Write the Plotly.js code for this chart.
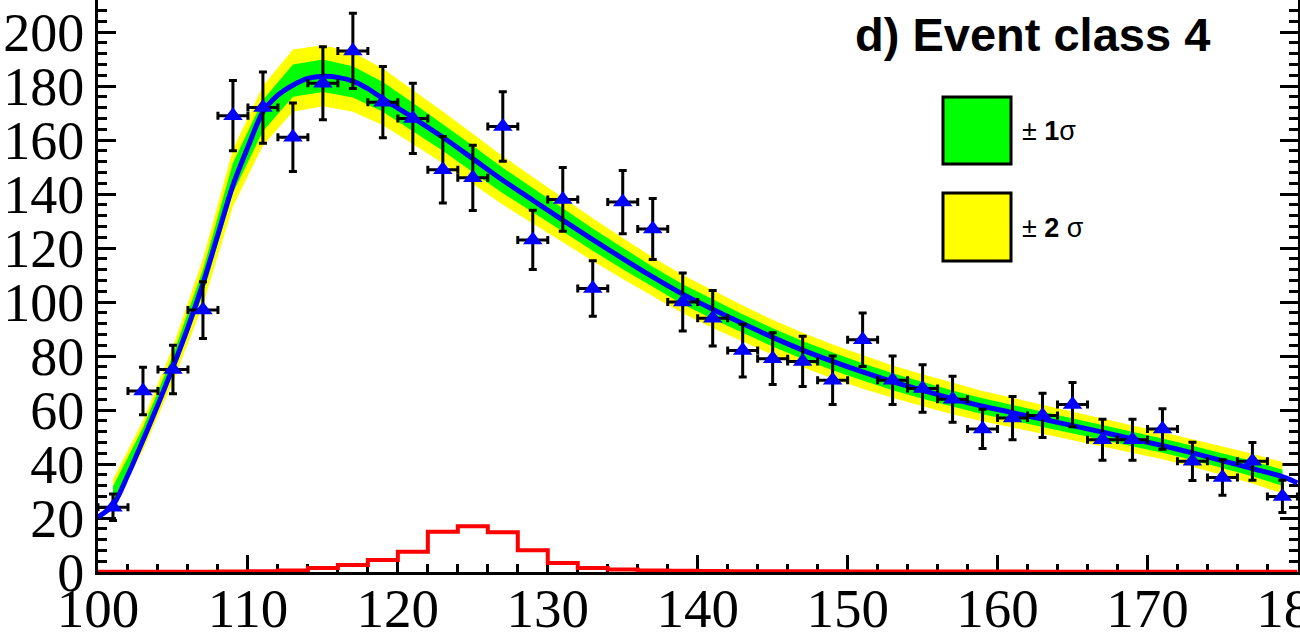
<!DOCTYPE html>
<html>
<head>
<meta charset="utf-8">
<script src="https://cdn.plot.ly/plotly-3.0.1.min.js"></script>
<style>html,body{margin:0;padding:0;background:#fff;overflow:hidden;}#chart{width:1300px;height:639px;}</style>
</head>
<body>
<div id="chart"></div>
<script>
// ---- data ----
const binCenters = [101,103,105,107,109,111,113,115,117,119,121,123,125,127,129,131,133,135,137,139,
                    141,143,145,147,149,151,153,155,157,159,161,163,165,167,169,171,173,175,177,179];
const dataY = [24,67,75,97,169,172,161,181,193,174,168,149,146,165,123,138,105,137,127,100,
               94,82,79,78,71,86,71,68,64,53,57,58,62,49,49,53,41,35,41,28];
const dataErr = [4.9,8.8,9,10.5,13,13.2,12.7,13.5,13.9,13.2,13,12.3,12.1,12.9,11,11.8,10.3,11.7,11.3,10.7,
                 10.3,9.8,9.6,9.3,9,9.9,9,8.8,8.5,7.3,8,8.2,8.2,7.6,7.6,7.5,7.1,6.6,7,6];
const binHalfWidth = [1,1,1,1,1,1,1,1,1,1,1,1,1,1,1,1,1,1,1,1,1,1,1,1,1,1,1,1,1,1,1,1,1,1,1,1,1,1,1,1];

const fitX = [100,101,102,103,104,105,106,107,108,109,110,111,112,113,114,115,116,117,118,119,
              121,123,125,127,129,131,133,135,137,139,141,143,145,147,149,151,153,155,157,159,
              161,163,165,167,169,171,173,175,177,179,180];
const fitY = [20.4,24.7,36,48.8,62,75.9,90.6,106.8,125.0,143.2,157.4,170.4,176.6,180.3,182.8,183.6,183.2,181.8,179.0,175.3,
              168.3,161.0,153.1,145.1,137.7,130.3,123.1,116.1,109.3,102.9,97.3,92.0,86.9,82.2,78.0,74.1,70.5,67.3,64.2,61.4,
              59.0,56.6,54.2,51.8,49.3,46.8,44.1,41.2,38.3,35.3,33.0];

const bandMid = [29,50.5,77,107.5,146,169,182,183.8,181.5,176,168.5,161,153,145,137.7,130.3,123.1,116.1,109.3,102.9,
                 97.3,92,86.9,82.2,78,74.1,70.5,67.3,64.2,61.4,59,56.6,54.2,51.8,49.3,46.8,44.1,41.2,38.3,34.9];
const band1Err = [2.7,2.9,3.4,4.4,5.5,5.8,6.0,6.0,5.8,5.5,5.3,5.0,4.9,4.7,4.5,4.3,4.1,4.0,3.8,3.7,
                  3.6,3.5,3.4,3.35,3.3,3.2,3.15,3.1,3.0,2.95,2.9,2.85,2.8,2.75,2.7,2.6,2.65,2.75,2.85,3.0];
const band2Err = [5.3,5.5,6.5,8.5,10.5,11,11.5,11.3,11,10.5,10,9.6,9.3,9,8.6,8.2,7.9,7.6,7.3,7.1,
                  6.9,6.7,6.5,6.4,6.3,6.2,6.0,5.9,5.8,5.6,5.5,5.4,5.3,5.2,5.1,5.0,5.1,5.3,5.5,5.8];

const sigEdges = [100,102,104,106,108,110,112,114,116,118,120,122,124,126,128,130,132,134,136,138,
                  140,142,144,146,148,150,152,154,156,158,160,162,164,166,168,170,172,174,176,178,180];
const sigY = [0.1,0.1,0.1,0.1,0.15,0.3,0.6,1.5,2.6,4.4,7.5,14.9,16.9,14.7,8.1,3.3,1.5,0.9,0.6,0.45,
              0.35,0.3,0.3,0.25,0.25,0.2,0.2,0.2,0.15,0.15,0.15,0.1,0.1,0.1,0.1,0.1,0.1,0.1,0.1,0.1];

const yTickVals = [0,20,40,60,80,100,120,140,160,180,200];
const xTickVals = [100,110,120,130,140,150,160,170,180];

const titleText = "d) Event class 4";
const leg1Text = "± <b>1</b>σ";
const leg2Text = "± <b>2</b> σ";

// ---- derived ----
const up2 = bandMid.map((m,i)=>m+band2Err[i]);
const lo2 = bandMid.map((m,i)=>m-band2Err[i]);
const up1 = bandMid.map((m,i)=>m+band1Err[i]);
const lo1 = bandMid.map((m,i)=>m-band1Err[i]);
const sigYstep = sigY.concat([sigY[sigY.length-1]]);

const traces = [
  {x:binCenters, y:lo2, mode:'lines', line:{width:0,color:'rgba(0,0,0,0)'}, hoverinfo:'skip', showlegend:false},
  {x:binCenters, y:up2, mode:'lines', line:{width:0,color:'rgba(0,0,0,0)'}, fill:'tonexty', fillcolor:'#ffff00', hoverinfo:'skip', showlegend:false},
  {x:binCenters, y:lo1, mode:'lines', line:{width:0,color:'rgba(0,0,0,0)'}, hoverinfo:'skip', showlegend:false},
  {x:binCenters, y:up1, mode:'lines', line:{width:0,color:'rgba(0,0,0,0)'}, fill:'tonexty', fillcolor:'#00ff00', hoverinfo:'skip', showlegend:false},
  {x:fitX, y:fitY, mode:'lines', line:{color:'#0000ff', width:5, shape:'spline', smoothing:0.8}, showlegend:false},
  {x:sigEdges, y:sigYstep, mode:'lines', line:{color:'#ff0000', width:4, shape:'hv'}, showlegend:false},
  {x:binCenters, y:dataY, mode:'markers', cliponaxis:false,
   marker:{symbol:'triangle-up', size:17, color:'#0000ff'},
   error_y:{type:'data', array:dataErr, visible:true, color:'#000', thickness:3, width:4},
   error_x:{type:'data', array:binHalfWidth, visible:true, color:'#000', thickness:3, width:4},
   showlegend:false}
];

const L = 98, R = 2, T = 0, B = 67;
const W = 1300, H = 639;
const pw = W - L - R, ph = H - T - B;
function px2x(px){ return (px - L)/pw; }
function py2y(py){ return (ph - (py - T))/ph; }

const layout = {
  width:W, height:H,
  margin:{l:L, r:R, t:T, b:B, pad:0},
  paper_bgcolor:'#fff', plot_bgcolor:'#fff',
  showlegend:false,
  xaxis:{range:[100,180.04], tickvals:xTickVals, ticks:'inside', ticklen:17, tickwidth:3, tickcolor:'#000',
         showline:true, linecolor:'#000', linewidth:3, mirror:false, showgrid:false, zeroline:false,
         ticklabelstandoff:-14, ticklabeloverflow:'allow',
         minor:{dtick:2, ticks:'inside', ticklen:8, tickwidth:3, tickcolor:'#000', showgrid:false},
         tickfont:{family:'Liberation Serif, serif', size:55, color:'#000'}, layer:'below traces'},
  yaxis:{range:[0, ph/2.7], tickvals:yTickVals, ticks:'inside', ticklen:18, tickwidth:3, tickcolor:'#000',
         showline:true, linecolor:'#000', linewidth:3, mirror:'ticks', showgrid:false, zeroline:false,
         ticklabeloverflow:'allow',
         minor:{dtick:4, ticks:'inside', ticklen:9, tickwidth:3, tickcolor:'#000', showgrid:false},
         tickfont:{family:'Liberation Serif, serif', size:54, color:'#000'}, layer:'below traces'},
  shapes:[
    {type:'rect', xref:'paper', yref:'paper', x0:px2x(943), x1:px2x(1011), y0:py2y(164), y1:py2y(97),
     fillcolor:'#00ff00', line:{color:'#000', width:3}},
    {type:'rect', xref:'paper', yref:'paper', x0:px2x(943), x1:px2x(1011), y0:py2y(261), y1:py2y(193),
     fillcolor:'#ffff00', line:{color:'#000', width:3}}
  ],
  annotations:[
    {text:titleText, xref:'paper', yref:'paper', x:px2x(853), y:py2y(35), xanchor:'left', yanchor:'middle',
     showarrow:false, font:{family:'Liberation Sans, Arial, sans-serif', size:47, color:'#000', weight:'bold'}},
    {text:leg1Text, xref:'paper', yref:'paper', x:px2x(1020), y:py2y(131), xanchor:'left', yanchor:'middle',
     showarrow:false, font:{family:'Liberation Sans, Arial, sans-serif', size:27, color:'#000'}},
    {text:leg2Text, xref:'paper', yref:'paper', x:px2x(1020), y:py2y(228), xanchor:'left', yanchor:'middle',
     showarrow:false, font:{family:'Liberation Sans, Arial, sans-serif', size:27, color:'#000'}}
  ]
};

Plotly.newPlot('chart', traces, layout, {staticPlot:true, displayModeBar:false});
</script>
</body>
</html>
